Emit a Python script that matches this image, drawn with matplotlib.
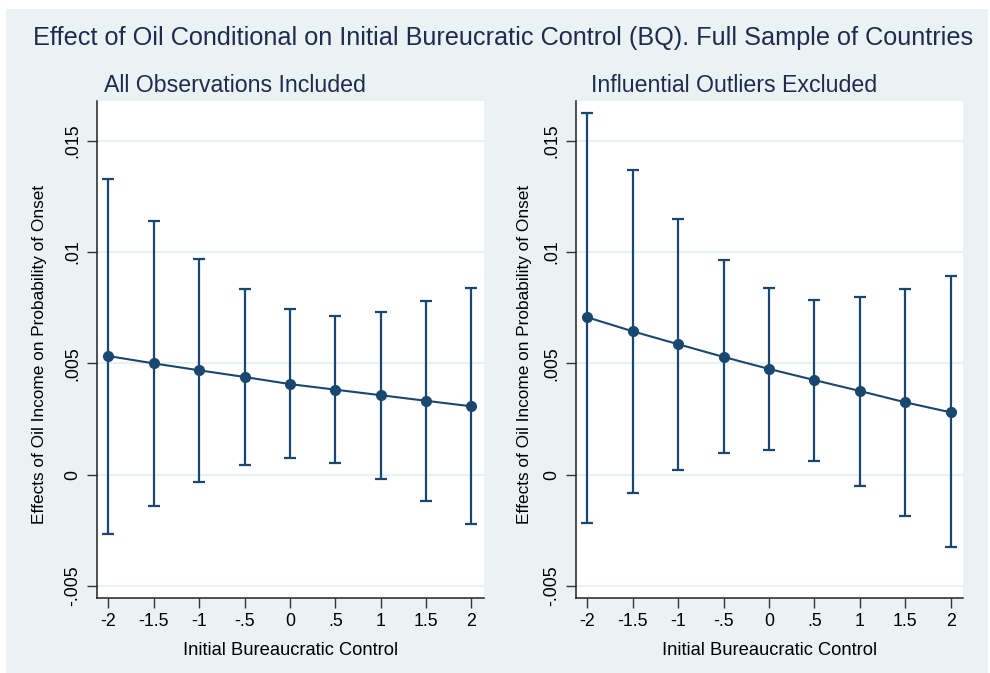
import matplotlib
matplotlib.use("Agg")
import matplotlib.pyplot as plt

# ---- data ----
bq = [-2, -1.5, -1, -0.5, 0, 0.5, 1, 1.5, 2]
tick_labels_x = ["-2", "-1.5", "-1", "-.5", "0", ".5", "1", "1.5", "2"]
yticks = [-0.005, 0, 0.005, 0.01, 0.015]
tick_labels_y = ["-.005", "0", ".005", ".01", ".015"]

all_est = [0.00533, 0.00500, 0.00469, 0.00439, 0.00407, 0.00382, 0.00357, 0.00332, 0.00307]
all_hi = [0.01328, 0.01138, 0.00969, 0.00836, 0.00746, 0.00714, 0.00731, 0.00779, 0.00837]
all_lo = [-0.00265, -0.00139, -0.00031, 0.00042, 0.00075, 0.00051, -0.00019, -0.00117, -0.00221]

excl_est = [0.00707, 0.00644, 0.00586, 0.00529, 0.00475, 0.00425, 0.00376, 0.00325, 0.00280]
excl_hi = [0.01625, 0.01370, 0.01150, 0.00963, 0.00839, 0.00785, 0.00797, 0.00836, 0.00894]
excl_lo = [-0.00217, -0.00082, 0.00022, 0.00096, 0.00110, 0.00062, -0.00049, -0.00184, -0.00325]

title = "Effect of Oil Conditional on Initial Bureucratic Control (BQ). Full Sample of Countries"
sub_left = "All Observations Included"
sub_right = "Influential Outliers Excluded"
xlabel = "Initial Bureaucratic Control"
ylabel = "Effects of Oil Income on Probability of Onset"

# ---- style ----
W, H = 990, 673
NAVY = "#1A476F"
BG = "#EAF2F3"
GRID = "#E6EFF1"
TXT = "#1E2B50"
plt.rcParams["font.family"] = ["Liberation Sans", "DejaVu Sans"]

fig = plt.figure(figsize=(W / 100, H / 100), dpi=100, facecolor="white")

# light graph-region background
bg = fig.add_axes([6 / W, 0, (988 - 6) / W, (H - 9) / H], zorder=-10)
bg.set_facecolor(BG)
bg.set_xticks([])
bg.set_yticks([])
for s in bg.spines.values():
    s.set_visible(False)

fig.text(33 / W, 1 - 38 / H, title, fontsize=18.15, color=TXT,
         ha="left", va="center")


def px_axes(x0, x1, ytop, ybot):
    return [x0 / W, 1 - ybot / H, (x1 - x0) / W, (ybot - ytop) / H]


panels = [
    (px_axes(97, 484, 100.5, 597.7), all_est, all_lo, all_hi, sub_left, 104, 40),
    (px_axes(576, 963.3, 100.5, 597.7), excl_est, excl_lo, excl_hi, sub_right, 591, 524),
]

for rect, est, lo, hi, sub, subx, ylx in panels:
    ax = fig.add_axes(rect)
    ax.set_facecolor("white")
    yerr = [[e - l for e, l in zip(est, lo)], [h - e for e, h in zip(est, hi)]]
    ax.errorbar(bq, est, yerr=yerr, fmt="none", ecolor=NAVY, elinewidth=1.6,
                capsize=4.5, capthick=1.6, zorder=3)
    ax.plot(bq, est, color=NAVY, lw=1.5, marker="o", markersize=7,
            markerfacecolor=NAVY, markeredgecolor=NAVY, zorder=4)
    ax.set_xlim(-2.125, 2.138)
    ax.set_ylim(-0.005526, 0.01681)
    ax.set_xticks(bq)
    ax.set_xticklabels(tick_labels_x, fontsize=12.8)
    ax.set_yticks(yticks)
    ax.set_yticklabels(tick_labels_y, fontsize=12.8, rotation=90, va="center")
    ax.tick_params(axis="both", length=7, width=1, color="#333333", pad=4)
    ax.grid(axis="y", color=GRID, lw=1.2, zorder=0)
    ax.set_axisbelow(True)
    for s in ("top", "right"):
        ax.spines[s].set_visible(False)
    for s in ("left", "bottom"):
        ax.spines[s].set_color("#222222")
        ax.spines[s].set_linewidth(1.1)
    ax.set_xlabel(xlabel, fontsize=13.2, labelpad=9)
    fig.text(ylx / W, 1 - 354 / H, ylabel, fontsize=12.4, rotation=90,
             ha="center", va="center")
    fig.text(subx / W, 1 - 85 / H, sub, fontsize=16.7, color=TXT,
             ha="left", va="center")

fig.savefig("out.png", dpi=100, facecolor="white")
